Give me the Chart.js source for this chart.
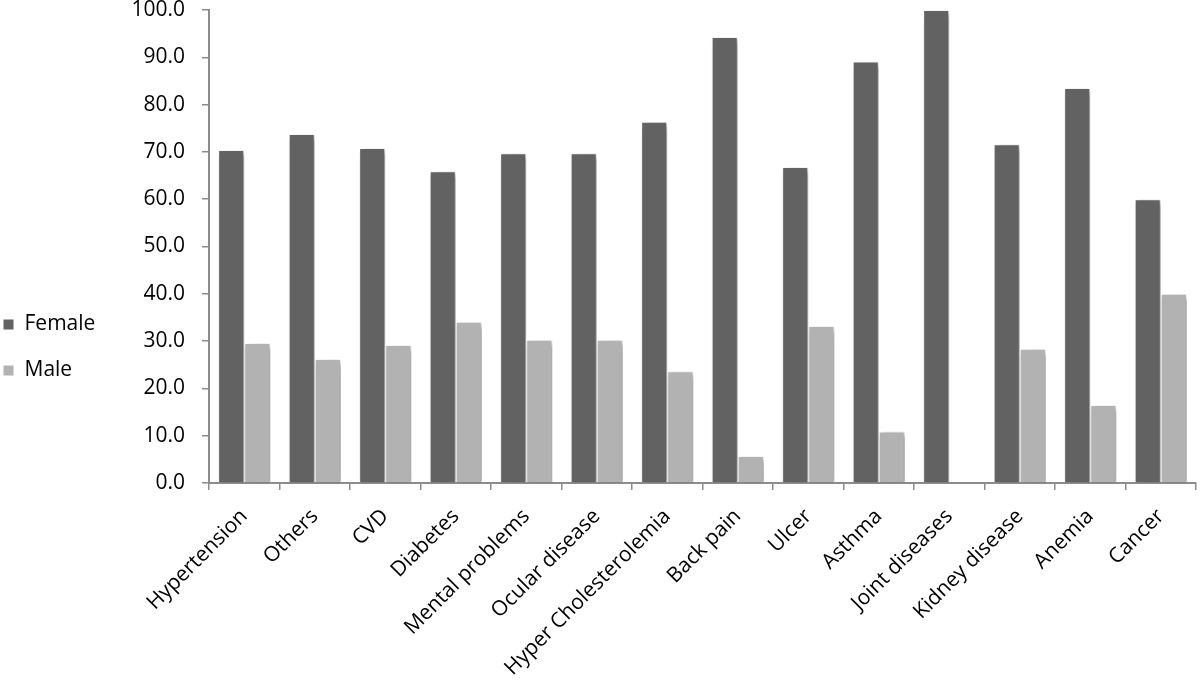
<!DOCTYPE html>
<html>
  <head>
    <title>Female / Male by disease</title>
    <style>
      html, body { margin: 0; padding: 0; background: #fff; }
    </style>
  </head>
  <body>
    <div style="width: 1200px; height: 687px">
      <canvas id="canvas" width="1200" height="687"></canvas>
    </div>
    <script src="https://cdn.jsdelivr.net/npm/chart.js@4.4.0/dist/chart.umd.min.js"></script>
    <script>
      const categories = [
        "Hypertension", "Others", "CVD", "Diabetes", "Mental problems",
        "Ocular disease", "Hyper Cholesterolemia", "Back pain", "Ulcer",
        "Asthma", "Joint diseases", "Kidney disease", "Anemia", "Cancer"
      ];
      const female = [70.4, 73.8, 70.8, 65.9, 69.7, 69.7, 76.4, 94.3, 66.8, 89.1, 100.0, 71.6, 83.5, 60.0];
      const male = [29.6, 26.2, 29.2, 34.1, 30.3, 30.3, 23.6, 5.7, 33.2, 10.9, 0, 28.4, 16.5, 40.0];
      const yTicks = [0, 10, 20, 30, 40, 50, 60, 70, 80, 90, 100];

      Chart.defaults.font.family = "'Open Sans', sans-serif";
      Chart.defaults.font.size = 21;
      Chart.defaults.color = "#000";

      // soft drop shadow under the bars, like the office chart style
      const barShadow = {
        id: "barShadow",
        beforeDatasetsDraw(chart) {
          const ctx = chart.ctx;
          ctx.save();
          ctx.shadowColor = "rgba(0,0,0,0.4)";
          ctx.shadowBlur = 6;
          ctx.shadowOffsetX = 3;
          ctx.shadowOffsetY = 3;
        },
        afterDatasetsDraw(chart) {
          chart.ctx.restore();
        }
      };

      const axisGrey = "#8c8c8c";

      new Chart(document.getElementById("canvas").getContext("2d"), {
        type: "bar",
        data: {
          labels: categories,
          datasets: [
            {
              label: "Female",
              data: female,
              backgroundColor: "#626262",
              borderColor: "#ffffff",
              borderWidth: 1,
              borderSkipped: "start"
            },
            {
              label: "Male",
              data: male,
              backgroundColor: "#b2b2b2",
              borderColor: "#ffffff",
              borderWidth: 1,
              borderSkipped: "start"
            }
          ]
        },
        options: {
          responsive: false,
          animation: false,
          layout: {
            padding: { left: -22, right: 4, top: 8, bottom: 0 }
          },
          datasets: {
            bar: { categoryPercentage: 0.74, barPercentage: 1.0 }
          },
          plugins: {
            legend: {
              position: "left",
              labels: {
                boxWidth: 11,
                boxHeight: 11,
                padding: 25,
                font: { size: 21 }
              }
            },
            tooltip: { enabled: false }
          },
          scales: {
            x: {
              grid: {
                display: true,
                drawOnChartArea: false,
                offset: true,
                tickLength: 7,
                color: axisGrey,
                lineWidth: 1.5
              },
              border: { color: axisGrey, width: 2 },
              ticks: {
                minRotation: 45,
                maxRotation: 45,
                padding: 14,
                autoSkip: false
              },
              afterFit(scale) {
                scale.height = 204;
              }
            },
            y: {
              min: 0,
              max: 100,
              grid: {
                drawOnChartArea: false,
                tickLength: 7,
                color: axisGrey,
                lineWidth: 1.5
              },
              border: { color: axisGrey, width: 2 },
              afterBuildTicks(scale) {
                scale.ticks = yTicks.map((v) => ({ value: v }));
              },
              ticks: {
                padding: 17,
                callback: (v) => Number(v).toFixed(1)
              },
              afterFit(scale) {
                const lg = scale.chart.legend;
                scale.width = lg && lg.width ? 231 - lg.width : 110;
                scale.paddingTop = 10;
                scale.paddingBottom = 0;
              }
            }
          }
        },
        plugins: [barShadow]
      });
    </script>
  </body>
</html>
